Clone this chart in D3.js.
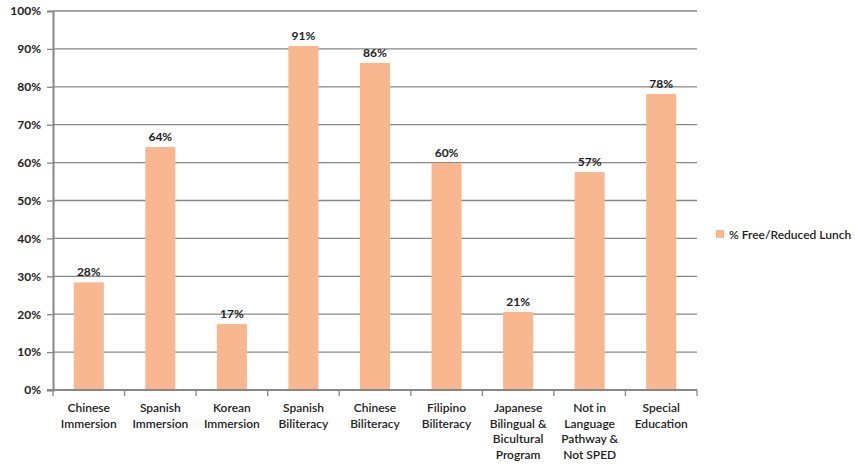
<!DOCTYPE html>
<html>
<head>
<meta charset="utf-8">
<script src="https://cdn.jsdelivr.net/npm/d3@7"></script>
<style>
  html, body { margin: 0; padding: 0; background: #fff; }
  svg { display: block; font-family: Lato, "Open Sans", sans-serif; }
</style>
</head>
<body>
<svg id="chart" width="855" height="466"></svg>
<script>
// Share of students with free/reduced lunch, by program
const categories = [
  ["Chinese", "Immersion"],
  ["Spanish", "Immersion"],
  ["Korean", "Immersion"],
  ["Spanish", "Biliteracy"],
  ["Chinese", "Biliteracy"],
  ["Filipino", "Biliteracy"],
  ["Japanese", "Bilingual &", "Bicultural", "Program"],
  ["Not in", "Language", "Pathway &", "Not SPED"],
  ["Special", "Education"]
];
const freeReducedLunch = [0.284, 0.641, 0.174, 0.908, 0.863, 0.599, 0.206, 0.575, 0.781];
const yTicks = [0, 0.1, 0.2, 0.3, 0.4, 0.5, 0.6, 0.7, 0.8, 0.9, 1.0];
const seriesName = "% Free/Reduced Lunch";

const svg = d3.select("#chart");
const margin = { left: 53, right: 158, top: 11, bottom: 76 };
const W = 855, H = 466;
const barColor = "#F8B78F";
const gridColor = "#878787";
const fontSize = "12px";

const x = d3.scaleBand()
  .domain(d3.range(categories.length))
  .range([margin.left, W - margin.right])
  .paddingInner(0.58)
  .paddingOuter(0.29);

const y = d3.scaleLinear()
  .domain([0, 1])
  .range([H - margin.bottom, margin.top]);

// horizontal gridlines
svg.append("g")
  .selectAll("line")
  .data(yTicks.slice(1))
  .join("line")
  .attr("x1", margin.left)
  .attr("x2", W - margin.right)
  .attr("y1", d => y(d))
  .attr("y2", d => y(d))
  .attr("stroke", gridColor)
  .attr("stroke-width", 1.3);

// y axis
const yAxis = svg.append("g")
  .attr("transform", `translate(${margin.left},0)`)
  .call(d3.axisLeft(y).tickValues(yTicks).tickFormat(d3.format(".0%")).tickSize(6).tickPadding(6));
yAxis.select(".domain").attr("stroke", gridColor).attr("stroke-width", 2);
yAxis.selectAll(".tick line").attr("stroke", gridColor).attr("stroke-width", 1.3);
yAxis.selectAll(".tick text")
  .attr("fill", "#222")
  .style("font-size", fontSize)
  .style("font-weight", "700")
  .style("font-family", "Lato, sans-serif");

// bars
svg.append("g")
  .selectAll("rect")
  .data(freeReducedLunch)
  .join("rect")
  .attr("x", (d, i) => x(i))
  .attr("width", x.bandwidth())
  .attr("y", d => y(d))
  .attr("height", d => y(0) - y(d))
  .attr("fill", barColor);

// value labels
svg.append("g")
  .selectAll("text")
  .data(freeReducedLunch)
  .join("text")
  .attr("x", (d, i) => x(i) + x.bandwidth() / 2)
  .attr("y", d => y(d) - 6)
  .attr("text-anchor", "middle")
  .attr("fill", "#222")
  .style("font-size", fontSize)
  .style("font-weight", "700")
  .text(d => d3.format(".0%")(d));

// x axis with ticks at category boundaries
const step = x.step();
const x0 = margin.left;
const xAxisG = svg.append("g");
xAxisG.append("line")
  .attr("x1", margin.left - 6).attr("x2", W - margin.right)
  .attr("y1", y(0)).attr("y2", y(0))
  .attr("stroke", gridColor).attr("stroke-width", 2);
xAxisG.selectAll("line.tk")
  .data(d3.range(categories.length + 1))
  .join("line")
  .attr("class", "tk")
  .attr("x1", i => x0 + i * step).attr("x2", i => x0 + i * step)
  .attr("y1", y(0)).attr("y2", y(0) + 6)
  .attr("stroke", gridColor).attr("stroke-width", 1.3);

const catLabels = xAxisG.selectAll("text.cat")
  .data(categories)
  .join("text")
  .attr("class", "cat")
  .attr("text-anchor", "middle")
  .attr("fill", "#222")
  .style("font-size", fontSize)
  .style("font-weight", "600");
catLabels.each(function(lines, i) {
  const t = d3.select(this);
  lines.forEach((ln, j) => {
    t.append("tspan")
      .attr("x", x(i) + x.bandwidth() / 2)
      .attr("y", y(0) + 22 + j * 15.5)
      .text(ln);
  });
});

// legend
const legend = svg.append("g").attr("transform", "translate(716,230)");
legend.append("rect").attr("width", 8).attr("height", 8).attr("fill", barColor);
legend.append("text")
  .attr("x", 13).attr("y", 8.5)
  .attr("fill", "#222")
  .style("font-size", fontSize)
  .style("font-weight", "600")
  .text(seriesName);
</script>
</body>
</html>
